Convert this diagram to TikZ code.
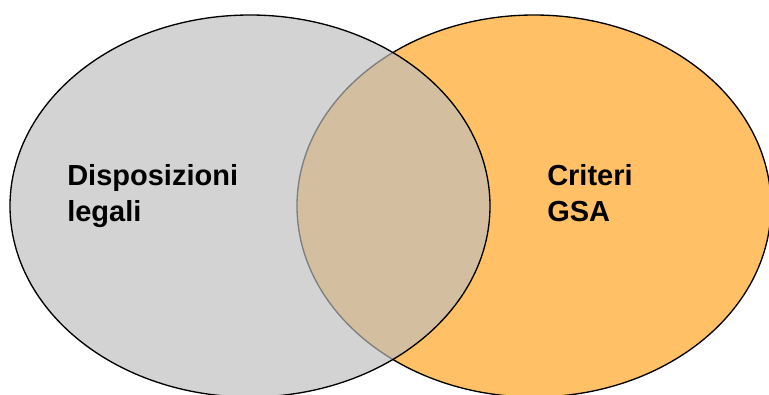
\documentclass[tikz,border=0pt]{standalone}
\usepackage{fontspec}
\setmainfont{Liberation Sans}
\definecolor{setgrey}{RGB}{189,189,189}
\definecolor{setorange}{RGB}{255,192,102}
\begin{document}
\begin{tikzpicture}
[x=0.75pt,y=-0.75pt,
  setdecorate/.style={draw=black,line width=1pt},
  labeldecorate/.style={font=\bfseries\fontsize{21.75}{27}\selectfont,align=left,inner sep=0pt,anchor=base west}]
\useasboundingbox (0,0) rectangle (769,394);
\clip (0,0) rectangle (769,394);
%%% sets
\path[setdecorate,fill=setorange] (534,206) ellipse [x radius=237,y radius=191];
\path[setdecorate,fill=setgrey,fill opacity=0.667] (250,206) ellipse [x radius=240,y radius=191];
%%% labels
\node (legal) at (67,221) [labeldecorate] {Disposizioni\\legali};
\node (gsa) at (547,221) [labeldecorate] {Criteri\\GSA};
\end{tikzpicture}
\end{document}
